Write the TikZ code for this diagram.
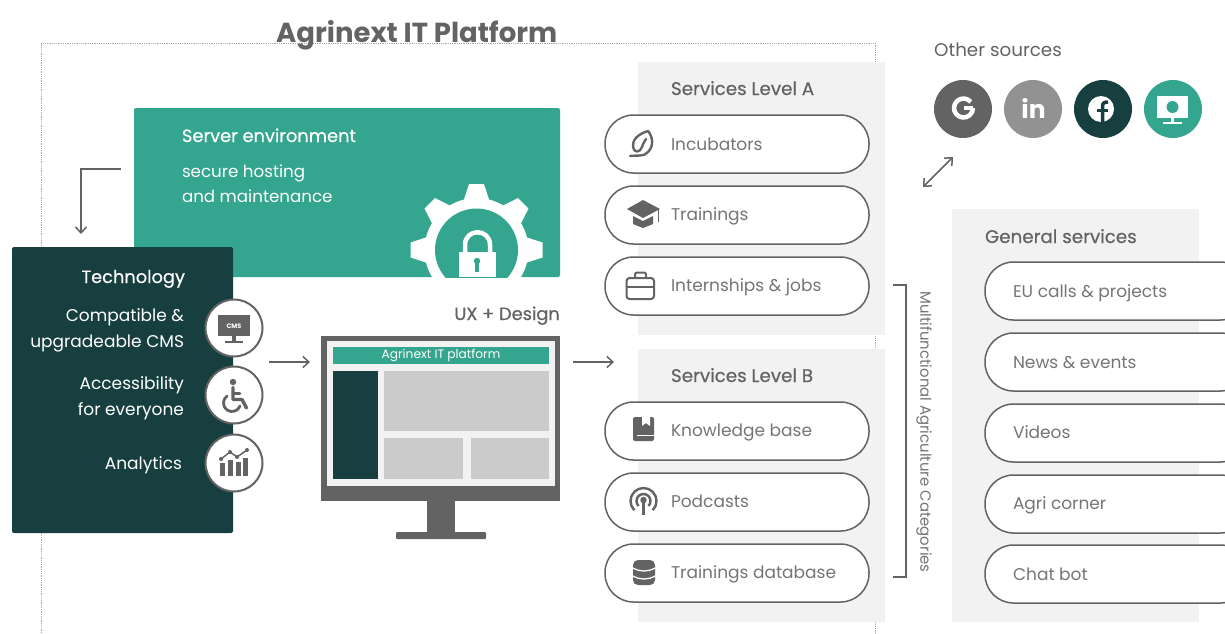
\documentclass[tikz,border=0pt]{standalone}
\usepackage{fontspec}
\setmainfont{Poppins}
\newfontfamily\med[FakeBold=0.5]{Poppins}
\usetikzlibrary{arrows.meta,calc}
\definecolor{teal}{HTML}{34A58E}
\definecolor{dark}{HTML}{173F3F}
\definecolor{ink}{HTML}{636363}
\definecolor{txt}{HTML}{757575}
\definecolor{panelgray}{HTML}{F2F2F2}
\definecolor{block}{HTML}{CBCBCB}
\tikzset{
  panel/.style={fill=panelgray,inner sep=0pt,outer sep=0pt},
  pill/.style={fill=white,draw=ink,line width=1.5pt,rounded corners=28.5pt,inner sep=0pt,outer sep=0pt,minimum width=264pt,minimum height=58pt},
  gpill/.style={pill,minimum width=264pt},
  badge/.style={circle,fill=white,draw=ink,line width=2pt,inner sep=0pt,outer sep=0pt,minimum size=57pt},
  social/.style={circle,inner sep=0pt,outer sep=0pt,minimum size=58pt},
  lbl/.style={anchor=base west,inner sep=0pt,outer sep=0pt,text=txt,font=\fontsize{17}{18}\selectfont},
  head/.style={anchor=base west,inner sep=0pt,outer sep=0pt,text=ink,font=\med\fontsize{18.3}{20}\selectfont},
  wl/.style={anchor=base west,inner sep=0pt,outer sep=0pt,text=white,font=\fontsize{16.7}{18}\selectfont},
  wr/.style={anchor=base east,inner sep=0pt,outer sep=0pt,text=white,font=\fontsize{17}{18}\selectfont},
  conn/.style={draw=ink,line width=1.5pt,-{Straight Barb[length=6pt,width=11pt,line width=1.5pt]}},
  connb/.style={draw=ink,line width=1.5pt,{Straight Barb[length=6pt,width=11pt,line width=1.5pt]}-{Straight Barb[length=6pt,width=11pt,line width=1.5pt]}},
  plain/.style={draw=ink,line width=1.5pt},
  icon/.style={draw=ink,line width=2pt,line cap=round,line join=round},
}
\begin{document}
\begin{tikzpicture}[x=1pt,y=-1pt]
\useasboundingbox (0,0) rectangle (1225,633);
\fill[white] (0,0) rectangle (1225,633);
% dotted frame
\draw[draw=gray!70,line width=.8pt,densely dotted] (41,660) -- (41,43) -- (875,43) -- (875,660);
% title
\node[anchor=base west,inner sep=0,text=ink,font=\bfseries\fontsize{27.5}{30}\selectfont] (title) at (276,42) {Agrinext IT Platform};
% server
\node[fill=teal,rounded corners=2pt,inner sep=0,outer sep=0,minimum width=426pt,minimum height=169pt] (server) at (347,192.5) {};
\begin{scope}
  \clip (134,108) rectangle (560,277);
  \fill[white] (476.5,250) circle[radius=52];
  \foreach \a in {0,45,...,315}{
    \begin{scope}[shift={(476.5,250)},rotate=\a]
      \fill[white] (-13,-49) -- (-7.5,-66) -- (7.5,-66) -- (13,-49) -- cycle;
    \end{scope}}
  \fill[teal] (476.5,250) circle[radius=41.5];
  \draw[white,line width=4.5pt] (465,254) -- (465,245) .. controls (465,228) and (490,228) .. (490,245) -- (490,254);
  \fill[white] (459,252) rectangle (496,277);
  \fill[teal] (477,261) circle[radius=3.2];
  \fill[teal] (475.3,261) rectangle (478.7,272);
\end{scope}
\node[wl,font=\med\fontsize{17.8}{20}\selectfont] (srvhead) at (182,142) {Server environment};
\node[wl] (srv1) at (182,177) {secure hosting};
\node[wl] (srv2) at (182,202) {and maintenance};
% technology
\node[fill=dark,rounded corners=2pt,inner sep=0,outer sep=0,minimum width=221pt,minimum height=286pt] (tech) at (122.5,390) {};
\node[wr,font=\med\fontsize{17.8}{20}\selectfont] (techhead) at (185,283) {Technology};
\node[wr] (t1) at (184,321) {Compatible \&};
\node[wr] (t2) at (184,347) {upgradeable CMS};
\node[wr] (t3) at (184,389) {Accessibility};
\node[wr] (t4) at (184,415) {for everyone};
\node[wr] (t5) at (182,469) {Analytics};
\node[badge] (bcms) at (234,328) {};
\node[badge] (bacc) at (234,395) {};
\node[badge] (bana) at (234,463) {};
% cms icon
\fill[ink] (218,315) rectangle (250,336);
\fill[ink] (232,336) rectangle (236,341);
\fill[ink] (225,340.5) rectangle (243,342.5);
\node[text=white,inner sep=0,font=\bfseries\fontsize{6.5}{7}\selectfont] (cmst) at (234,326) {CMS};
% accessibility icon
\fill[ink] (233,382) circle[radius=3.2];
\draw[icon,line width=3.4pt] (233,387.5) -- (233,399.5) -- (242,399.5) -- (246.5,408);
\draw[icon,line width=2.8pt] (233,393.5) -- (240,393.5);
\draw[icon,line width=2.8pt] ($(232,403)+(235:8.5)$) arc[start angle=235,end angle=20,radius=8.5];
% analytics icon
\fill[ink] (220,463) rectangle (225,476);
\fill[ink] (228,460) rectangle (233,476);
\fill[ink] (236,462) rectangle (241,476);
\fill[ink] (243,458) rectangle (248,476);
\draw[icon,line width=1.5pt] (221,459) -- (230,452) -- (237,457) -- (247,450);
\foreach \p in {(221,459),(230,452),(237,457),(247,450)} \fill[ink] \p circle[radius=2];
% monitor
\node[fill=ink,inner sep=0,outer sep=0,minimum width=239pt,minimum height=165pt] (mon) at (440.5,418.5) {};
\fill[panelgray] (327,341) rectangle (555,486);
\fill[ink] (427,501) rectangle (455,532);
\fill[ink,rounded corners=1pt] (396,532) rectangle (486,539);
\node[fill=teal,inner sep=0,outer sep=0,minimum width=216pt,minimum height=17pt,text=white,font=\fontsize{12.2}{13}\selectfont] (monhead) at (441,355.5) {Agrinext IT platform};
\fill[dark] (333,371) rectangle (378,479);
\fill[block] (384,371) rectangle (549,431);
\fill[block] (384,438) rectangle (463,479);
\fill[block] (471,438) rectangle (549,479);
\node[anchor=base east,inner sep=0,text=ink,font=\med\fontsize{17.8}{20}\selectfont] (ux) at (560,320) {UX + Design};
% panels
\node[panel,minimum width=247pt,minimum height=273pt] (pa) at (761.5,198.5) {};
\node[panel,minimum width=247pt,minimum height=273pt] (pb) at (761.5,485.5) {};
\node[panel,minimum width=247pt,minimum height=413pt] (pg) at (1075.5,415.5) {};
\node[head] (ha) at (671,95) {Services Level A};
\node[head] (hb) at (671,382) {Services Level B};
\node[head] (hg) at (985,243) {General services};
% pills
\node[pill] (p1) at (737,144) {};
\node[pill] (p2) at (737,215) {};
\node[pill] (p3) at (737,286) {};
\node[pill] (p4) at (737,431) {};
\node[pill] (p5) at (737,502) {};
\node[pill] (p6) at (737,573) {};
\node[lbl] at (671,150) {Incubators};
\node[lbl] at (671,220) {Trainings};
\node[lbl] at (671,291) {Internships \& jobs};
\node[lbl] at (671,436) {Knowledge base};
\node[lbl] at (671,507) {Podcasts};
\node[lbl] at (671,578) {Trainings database};
\node[gpill] (g1) at (1117,291) {};
\node[gpill] (g2) at (1117,362) {};
\node[gpill] (g3) at (1117,433) {};
\node[gpill] (g4) at (1117,504) {};
\node[gpill] (g5) at (1117,574) {};
\node[lbl] at (1013,297) {EU calls \& projects};
\node[lbl] at (1013,368) {News \& events};
\node[lbl] at (1013,438) {Videos};
\node[lbl] at (1013,509) {Agri corner};
\node[lbl] at (1013,580) {Chat bot};
% pill icons
\draw[icon,line width=2.4pt] (648,131) .. controls (638,134) and (632,140) .. (633,147) .. controls (634,153) and (640,153) .. (642,147) .. controls (643,143) and (645,141) .. (646,139);
\draw[icon,line width=2.4pt] (630,156) .. controls (638,155) and (644,157) .. (648,152) .. controls (654,146) and (653,137) .. (648,131);
\fill[ink] (627,209) -- (643,200) -- (660,209) -- (643,218) -- cycle;
\fill[ink] (633,216) -- (643,221) -- (653,216) -- (653,224) -- (643,228) -- (633,224) -- cycle;
\draw[ink,line width=1pt] (658,210) -- (658,222);
\draw[icon,rounded corners=3pt] (626.5,278) rectangle (654,299);
\draw[icon,rounded corners=2pt] (635,278) -- (635,272.5) -- (646,272.5) -- (646,278);
\draw[icon,line width=1.5pt] (626.5,287) -- (654,287);
\fill[ink,rounded corners=2pt] (633,417) rectangle (654,441);
\fill[white] (642,417) -- (650,417) -- (650,426) -- (646,423) -- (642,426) -- cycle;
\draw[white,line width=1.6pt] (637,435.5) -- (654,435.5);
\fill[ink] (643.5,500) circle[radius=3.2];
\draw[ink,line width=2.2pt] (643.5,500) -- (643.5,515);
\draw[ink,line width=2.4pt] ($(643.5,501)+(135:7)$) arc[start angle=135,end angle=405,radius=7];
\draw[ink,line width=2.4pt] ($(643.5,501)+(135:13)$) arc[start angle=135,end angle=405,radius=13];
\fill[ink,rounded corners=5pt] (633,560) rectangle (655,585);
\draw[white,line width=1.3pt] (633,568) .. controls (640,572) and (648,572) .. (655,568);
\draw[white,line width=1.3pt] (633,576) .. controls (640,580) and (648,580) .. (655,576);
% other sources
\node[anchor=base west,inner sep=0,text=ink,font=\fontsize{18.3}{20}\selectfont] (os) at (934,56.5) {Other sources};
\node[social,fill=ink] (sg) at (963,109) {};
\node[social,fill=ink!70] (si) at (1033,109) {};
\node[social,fill=dark] (sf) at (1103,109) {};
\node[social,fill=teal] (sm) at (1173,109) {};
\draw[white,line width=4.5pt] ($(963.5,108)+(320:9.5)$) arc[start angle=320,end angle=0,radius=9.5];
\draw[white,line width=4pt] (963.5,108) -- (973,108);
\node[text=white,inner sep=0,font=\bfseries\fontsize{25}{26}\selectfont] (intext) at (1033.5,108) {in};
\fill[white] (1101,109) circle[radius=13];
\draw[dark,line width=3.5pt] (1102.5,123) -- (1102.5,107) .. controls (1102.5,103) and (1104,102) .. (1108,102);
\draw[dark,line width=3pt] (1097,110) -- (1108,110);
\fill[white] (1157,96) rectangle (1188,118);
\fill[teal] (1172.5,107) circle[radius=6];
\fill[white] (1171,118) rectangle (1174,123);
\fill[white] (1163,122) rectangle (1182,124);
% connectors
\draw[conn,shorten <=13pt,shorten >=13pt] ([yshift=23.5pt]server.west) -| ([xshift=-41.5pt]tech.north);
\draw[conn,shorten <=36pt,shorten >=11pt] ([yshift=28pt]tech.east) -- ([yshift=56.5pt]mon.west);
\draw[conn,shorten <=13pt,shorten >=24pt] ([yshift=56.5pt]mon.east) -- ([yshift=123.5pt]pb.west);
\coordinate (dblA) at (953,157);
\coordinate (dblB) at (923,187);
\draw[connb] (dblB) -- (dblA);
\coordinate (brk) at (906,300);
\draw[plain,shorten <=24pt,shorten >=24pt] ([yshift=1pt]p3.east) -- ([yshift=1pt]p3.east -| brk) -- ([yshift=-4pt]p6.east -| brk) -- ([yshift=-4pt]p6.east);
\node[rotate=-90,inner sep=0,text=txt,font=\fontsize{14.9}{16}\selectfont] (mac) at (924,432) {Multifunctional Agriculture Categories};
\end{tikzpicture}
\end{document}
